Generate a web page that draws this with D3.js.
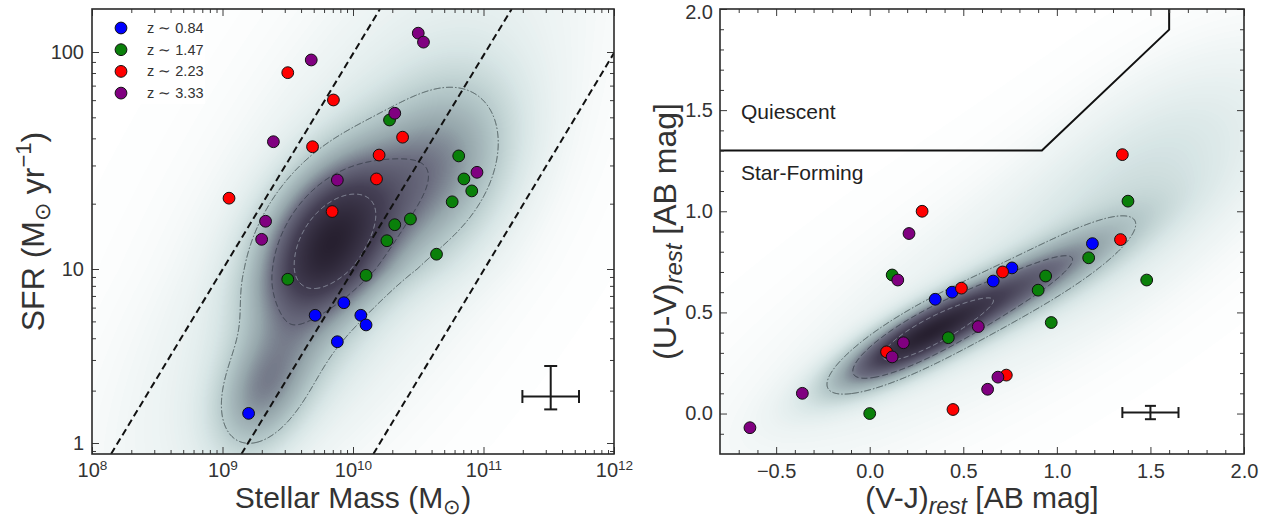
<!DOCTYPE html>
<html><head><meta charset="utf-8">
<script src="https://cdn.jsdelivr.net/npm/d3@7"></script>
<style>
html,body{margin:0;padding:0;background:#fff;}
svg{display:block;font-family:"Liberation Sans",Arial,sans-serif;}
</style></head><body>
<svg id="chart" width="1270" height="522"></svg>
<script>
// ================= DATA =================
const seriesNames  = ["z \u223C 0.84", "z \u223C 1.47", "z \u223C 2.23", "z \u223C 3.33"];
const seriesColors = ["#0000ff", "#0a800a", "#ff0000", "#800080"];

// Left panel: log10(M*/Msun) and SFR (Msun/yr)
const logMassZ084 = [9.93, 9.71, 10.06, 10.10, 9.88, 9.20];
const sfrZ084     = [6.40, 5.42, 5.42, 4.77, 3.82, 1.48];
const logMassZ147 = [10.28, 10.81, 10.85, 10.91, 10.76, 10.44, 10.32, 10.26, 10.64, 9.50, 10.10];
const sfrZ147     = [48.6, 33.2, 26.0, 22.9, 20.4, 17.0, 16.0, 13.5, 11.7, 8.73, 9.20];
const logMassZ223 = [9.50, 9.85, 9.69, 10.38, 10.20, 10.18, 9.05, 9.84];
const sfrZ223     = [80.3, 60.1, 36.6, 40.5, 33.5, 26.0, 21.2, 18.4];
const logMassZ333 = [10.50, 10.54, 9.68, 10.32, 9.39, 9.88, 10.95, 9.33, 9.30];
const sfrZ333     = [122, 111, 91.9, 52.2, 38.6, 25.7, 27.9, 16.6, 13.7];

// Right panel: (V-J)rest and (U-V)rest
const vjZ084 = [0.35, 0.44, 0.66, 0.76, 1.19];
const uvZ084 = [0.565, 0.60, 0.655, 0.72, 0.84];
const vjZ147 = [0.00, 0.12, 0.42, 0.94, 0.90, 0.97, 1.17, 1.38, 1.48];
const uvZ147 = [0.00, 0.685, 0.375, 0.68, 0.61, 0.45, 0.77, 1.05, 0.66];
const vjZ223 = [0.28, 1.35, 1.34, 0.49, 0.71, 0.09, 0.73, 0.445];
const uvZ223 = [1.00, 1.28, 0.86, 0.62, 0.70, 0.305, 0.19, 0.02];
const vjZ333 = [-0.64, -0.36, 0.21, 0.15, 0.18, 0.12, 0.58, 0.63, 0.685];
const uvZ333 = [-0.07, 0.10, 0.89, 0.66, 0.35, 0.28, 0.43, 0.12, 0.18];

// constant-sSFR guide lines (segment ends, log mass / SFR)
const guideStartLogM = [8.146, 9.145, 10.156];
const guideStartSFR  = [0.865, 0.865, 0.865];
const guideEndLogM   = [10.207, 11.216, 12.0];
const guideEndSFR    = [157.5, 157.5, 98.9];

// UVJ quiescent boundary
const uvjBoundaryVJ = [-0.8, 0.92, 1.6, 1.6];
const uvjBoundaryUV = [1.3, 1.3, 1.898, 2.0];

// typical error bars
const errLeftLogM = 11.515, errLeftDex = 0.217, errLeftSFR = 1.85, errLeftSFRlo = 1.56, errLeftSFRhi = 2.77;
const errRightVJ = 1.50, errRightVJerr = 0.15, errRightUV = 0.005, errRightUVerr = 0.033;

// axis ticks
const leftXMajor = [8, 9, 10, 11, 12];
const leftYMajor = [1, 10, 100];
const leftYLabels = ["1", "10", "100"];
const rightXMajor = [-0.5, 0.0, 0.5, 1.0, 1.5, 2.0];
const rightYMajor = [0.0, 0.5, 1.0, 1.5, 2.0];

// background density (parent sample) modelled as Gaussian components
// left: (logM, logSFR)
const lMx  = [9.82, 10.63, 9.30, 9.98, 9.59];
const lMy  = [1.13, 1.456, 0.28, 1.13, 0.65];
const lSx  = [0.347, 0.394, 0.24, 1.08, 0.33];
const lSy  = [0.252, 0.277, 0.24, 1.00, 0.31];
const lRho = [0.39, 0.32, 0.35, 0.72, 0.44];
const lAmp = [1.0, 0.42, 0.35, 0.15, 0.22];
// right: (V-J, U-V)
const rMx  = [0.25, 0.80, 0.90, 1.45];
const rMy  = [0.37, 0.62, 0.75, 1.15];
const rSx  = [0.283, 0.377, 1.045, 0.422];
const rSy  = [0.160, 0.207, 0.667, 0.39];
const rRho = [0.829, 0.873, 0.853, 0.60];
const rAmp = [1.0, 0.55, 0.11, 0.10];

const cmapStops  = [0, 0.04, 0.12, 0.22, 0.36, 0.5, 0.7, 1];
const cmapColors = ["#ffffff", "#eff5f5", "#d8e6e6", "#b8cbcc", "#95a6ab", "#6a6b7e", "#454055", "#272030"];
const leftLevels  = [0.22, 0.5, 0.76];
const rightLevels = [0.24, 0.45, 0.75];

// ================= DRAW =================
const svg = d3.select("#chart");
const font = '"Liberation Sans", Arial, sans-serif';
const LF = {x0: 92, x1: 614, y0: 9, y1: 454};
const RF = {x0: 720, x1: 1244, y0: 9, y1: 454};

const xL = d3.scaleLinear().domain([8, 12]).range([LF.x0, LF.x1]);
const yL = d3.scaleLog().domain([0.865, 1, 10, 100, 157.5]).range([454, 443, 269, 52, 9]);
const xR = d3.scaleLinear().domain([-0.8, 2.0]).range([RF.x0, RF.x1]);
const yR = d3.scaleLinear().domain([-0.2, 2.0]).range([RF.y1, RF.y0]);

const cmap = d3.scaleLinear().domain(cmapStops).range(cmapColors).interpolate(d3.interpolateRgb).clamp(true);
const lut = d3.range(256).map(i => d3.rgb(cmap(i / 255)));

function mixture(mx, my, sx, sy, rho, amp) {
  return (x, y) => {
    let s = 0;
    for (let k = 0; k < mx.length; k++) {
      const dx = (x - mx[k]) / sx[k], dy = (y - my[k]) / sy[k], r = rho[k];
      s += amp[k] * Math.exp(-0.5 / (1 - r * r) * (dx * dx - 2 * r * dx * dy + dy * dy));
    }
    return s;
  };
}

function densityLayer(g, F, xs, yToData, f, levels) {
  const w = F.x1 - F.x0, h = F.y1 - F.y0;
  const vals = new Array(w * h);
  let mx = 0;
  for (let j = 0; j < h; j++) {
    const yd = yToData(F.y0 + j + 0.5);
    for (let i = 0; i < w; i++) {
      const v = f(xs.invert(F.x0 + i + 0.5), yd);
      vals[j * w + i] = v; if (v > mx) mx = v;
    }
  }
  for (let k = 0; k < vals.length; k++) vals[k] /= mx;
  const cv = document.createElement("canvas"); cv.width = w; cv.height = h;
  const ctx = cv.getContext("2d"); const img = ctx.createImageData(w, h);
  for (let k = 0; k < vals.length; k++) {
    const c = lut[Math.max(0, Math.min(255, Math.round(vals[k] * 255)))];
    img.data[4 * k] = c.r; img.data[4 * k + 1] = c.g; img.data[4 * k + 2] = c.b; img.data[4 * k + 3] = 255;
  }
  ctx.putImageData(img, 0, 0);
  g.append("image").attr("x", F.x0).attr("y", F.y0).attr("width", w).attr("height", h)
    .attr("preserveAspectRatio", "none").attr("href", cv.toDataURL());
  const cont = d3.contours().size([w, h]).thresholds(levels)(vals);
  const dashes = ["7,2,1.5,2", "6,3", "5,3"];
  const strokes = ["#4a5759", "#3a404c", "#8c91a0"];
  g.append("g").attr("transform", `translate(${F.x0},${F.y0})`)
    .selectAll("path").data(cont).join("path")
    .attr("d", d3.geoPath()).attr("fill", "none")
    .attr("stroke", (d, i) => strokes[i]).attr("stroke-width", 1)
    .attr("stroke-dasharray", (d, i) => dashes[i]);
}

function axes(g, F, xs, ys, xMajor, xMinor, yMajor, yMinor, xFmt, yFmt, xFs, yFs, xPad, yPad) {
  const style = sel => {
    sel.select(".domain").remove();
    sel.selectAll("line").attr("stroke", "#3a3a3a").attr("stroke-width", 1);
    sel.selectAll("text").attr("fill", "#333").attr("font-family", font);
  };
  const bottom = g.append("g").attr("transform", `translate(0,${F.y1})`)
    .call(d3.axisBottom(xs).tickValues(xMajor).tickSize(-7).tickPadding(xPad).tickFormat(xFmt))
    .attr("font-size", xFs).call(style);
  g.append("g").attr("transform", `translate(0,${F.y1})`)
    .call(d3.axisBottom(xs).tickValues(xMinor).tickSize(-4).tickFormat("")).call(style);
  g.append("g").attr("transform", `translate(0,${F.y0})`)
    .call(d3.axisTop(xs).tickValues(xMajor).tickSize(-7).tickFormat("")).call(style);
  g.append("g").attr("transform", `translate(0,${F.y0})`)
    .call(d3.axisTop(xs).tickValues(xMinor).tickSize(-4).tickFormat("")).call(style);
  const left = g.append("g").attr("transform", `translate(${F.x0},0)`)
    .call(d3.axisLeft(ys).tickValues(yMajor).tickSize(-7).tickPadding(yPad).tickFormat(yFmt))
    .attr("font-size", yFs).call(style);
  // keep the topmost label inside the picture
  left.selectAll(".tick text").filter(d => Math.abs(ys(d) - F.y0) < 1).attr("dy", "0.45em");
  g.append("g").attr("transform", `translate(${F.x0},0)`)
    .call(d3.axisLeft(ys).tickValues(yMinor).tickSize(-4).tickFormat("")).call(style);
  g.append("g").attr("transform", `translate(${F.x1},0)`)
    .call(d3.axisRight(ys).tickValues(yMajor).tickSize(-7).tickFormat("")).call(style);
  g.append("g").attr("transform", `translate(${F.x1},0)`)
    .call(d3.axisRight(ys).tickValues(yMinor).tickSize(-4).tickFormat("")).call(style);
  g.append("rect").attr("x", F.x0).attr("y", F.y0).attr("width", F.x1 - F.x0).attr("height", F.y1 - F.y0)
    .attr("fill", "none").attr("stroke", "#2a2a2a").attr("stroke-width", 1.6);
  return bottom;
}

function drawPoints(g, xs, ys, xsArr, ysArr) {
  xsArr.forEach((xa, s) => {
    g.append("g").selectAll("circle").data(xa.map((v, i) => [v, ysArr[s][i]])).join("circle")
      .attr("cx", d => xs(d[0])).attr("cy", d => ys(d[1])).attr("r", 5.9)
      .attr("fill", seriesColors[s]).attr("stroke", "#111").attr("stroke-width", 1);
  });
}

function errCross(g, cx, cy, x0, x1, y0, y1, cap) {
  const e = g.append("g").attr("stroke", "#1a1a1a").attr("stroke-width", 2);
  e.append("line").attr("x1", x0).attr("x2", x1).attr("y1", cy).attr("y2", cy);
  e.append("line").attr("x1", cx).attr("x2", cx).attr("y1", y0).attr("y2", y1);
  [x0, x1].forEach(x => e.append("line").attr("x1", x).attr("x2", x).attr("y1", cy - cap).attr("y2", cy + cap));
  [y0, y1].forEach(y => e.append("line").attr("x1", cx - cap).attr("x2", cx + cap).attr("y1", y).attr("y2", y));
}

const defs = svg.append("defs");
defs.append("clipPath").attr("id", "clipL").append("rect").attr("x", LF.x0).attr("y", LF.y0).attr("width", LF.x1 - LF.x0).attr("height", LF.y1 - LF.y0);
defs.append("clipPath").attr("id", "clipR").append("rect").attr("x", RF.x0).attr("y", RF.y0).attr("width", RF.x1 - RF.x0).attr("height", RF.y1 - RF.y0);

// ---------- LEFT PANEL ----------
const gL = svg.append("g");
const gLc = gL.append("g").attr("clip-path", "url(#clipL)");
densityLayer(gLc, LF, xL, py => Math.log10(yL.invert(py)), mixture(lMx, lMy, lSx, lSy, lRho, lAmp), leftLevels);

guideStartLogM.forEach((m, i) => {
  gLc.append("line").attr("x1", xL(m)).attr("y1", yL(guideStartSFR[i]))
    .attr("x2", xL(guideEndLogM[i])).attr("y2", yL(guideEndSFR[i]))
    .attr("stroke", "#111").attr("stroke-width", 2).attr("stroke-dasharray", "7,4");
});
errCross(gL, xL(errLeftLogM), yL(errLeftSFR), xL(errLeftLogM - errLeftDex), xL(errLeftLogM + errLeftDex),
  yL(errLeftSFRhi), yL(errLeftSFRlo), 6.5);
drawPoints(gL, xL, yL, [logMassZ084, logMassZ147, logMassZ223, logMassZ333], [sfrZ084, sfrZ147, sfrZ223, sfrZ333]);

// legend
const leg = gL.append("g");
leg.append("rect").attr("x", LF.x0 + 3).attr("y", LF.y0 + 3).attr("width", 110).attr("height", 92)
  .attr("fill", "#fff").attr("opacity", 0.8);
seriesNames.forEach((n, i) => {
  const yy = 28 + i * 21.7;
  leg.append("circle").attr("cx", 121).attr("cy", yy).attr("r", 5.9).attr("fill", seriesColors[i]).attr("stroke", "#111");
  leg.append("text").attr("x", 147).attr("y", yy + 5).attr("font-size", 14.5).attr("fill", "#333").text(n);
});

const lxMinor = [];
[8, 9, 10, 11].forEach(e => d3.range(2, 10).forEach(k => lxMinor.push(e + Math.log10(k))));
const lyMinor = [0.9, 2, 3, 4, 5, 6, 7, 8, 9, 20, 30, 40, 50, 60, 70, 80, 90];
const xAxisL = axes(gL.append("g"), LF, xL, yL, leftXMajor, lxMinor, leftYMajor, lyMinor, d => "10", (d, i) => leftYLabels[i], 20, 20, 9, 8);
// superscript exponents on x tick labels
xAxisL.selectAll(".tick text").each(function (d) {
  d3.select(this).append("tspan").attr("dy", "-0.55em").attr("font-size", "0.68em").text(d);
});

// titles
const tl = gL.append("text").attr("x", (LF.x0 + LF.x1) / 2).attr("y", 508).attr("text-anchor", "middle")
  .attr("font-size", 30).attr("fill", "#333");
tl.append("tspan").text("Stellar Mass (M");
tl.append("tspan").attr("font-size", 21).attr("dy", 6).text("\u2299");
tl.append("tspan").attr("dy", -6).text(")");
const ty = gL.append("text").attr("transform", `translate(44,${(LF.y0 + LF.y1) / 2}) rotate(-90)`)
  .attr("text-anchor", "middle").attr("font-size", 32).attr("fill", "#333");
ty.append("tspan").text("SFR (M");
ty.append("tspan").attr("font-size", 22).attr("dy", 6).text("\u2299");
ty.append("tspan").attr("dy", -6).text(" yr");
ty.append("tspan").attr("font-size", 22).attr("dy", -13).text("\u22121");
ty.append("tspan").attr("dy", 13).text(")");

// ---------- RIGHT PANEL ----------
const gR = svg.append("g");
const gRc = gR.append("g").attr("clip-path", "url(#clipR)");
densityLayer(gRc, RF, xR, py => yR.invert(py), mixture(rMx, rMy, rSx, rSy, rRho, rAmp), rightLevels);

gRc.append("path").datum(uvjBoundaryVJ.map((v, i) => [v, uvjBoundaryUV[i]]))
  .attr("d", d3.line().x(d => xR(d[0])).y(d => yR(d[1])))
  .attr("fill", "none").attr("stroke", "#111").attr("stroke-width", 2);
gR.append("text").attr("x", xR(-0.688)).attr("y", yR(1.456)).attr("font-size", 21).attr("fill", "#222").text("Quiescent");
gR.append("text").attr("x", xR(-0.688)).attr("y", yR(1.155)).attr("font-size", 21).attr("fill", "#222").text("Star-Forming");

errCross(gR, xR(errRightVJ), yR(errRightUV), xR(errRightVJ - errRightVJerr), xR(errRightVJ + errRightVJerr),
  yR(errRightUV + errRightUVerr), yR(errRightUV - errRightUVerr), 5.5);
drawPoints(gR, xR, yR, [vjZ084, vjZ147, vjZ223, vjZ333], [uvZ084, uvZ147, uvZ223, uvZ333]);

const rxMinor = d3.range(-7, 20).map(k => k / 10).filter(v => Math.abs(v * 2 - Math.round(v * 2)) > 1e-6);
const ryMinor = d3.range(-1, 20).map(k => k / 10).filter(v => Math.abs(v * 2 - Math.round(v * 2)) > 1e-6);
const fmt1 = d3.format(".1f");
axes(gR.append("g"), RF, xR, yR, rightXMajor, rxMinor, rightYMajor, ryMinor, fmt1, fmt1, 20, 20, 10, 7);

const rt = gR.append("text").attr("x", (RF.x0 + RF.x1) / 2).attr("y", 508).attr("text-anchor", "middle")
  .attr("font-size", 30).attr("fill", "#333");
rt.append("tspan").text("(V-J)");
rt.append("tspan").attr("font-size", 23).attr("font-style", "italic").attr("dy", 6).text("rest");
rt.append("tspan").attr("dy", -6).text(" [AB mag]");
const ry = gR.append("text").attr("transform", `translate(676,${(RF.y0 + RF.y1) / 2}) rotate(-90)`)
  .attr("text-anchor", "middle").attr("font-size", 32).attr("fill", "#333");
ry.append("tspan").text("(U-V)");
ry.append("tspan").attr("font-size", 24).attr("font-style", "italic").attr("dy", 6).text("rest");
ry.append("tspan").attr("dy", -6).text(" [AB mag]");
</script>
</body></html>
